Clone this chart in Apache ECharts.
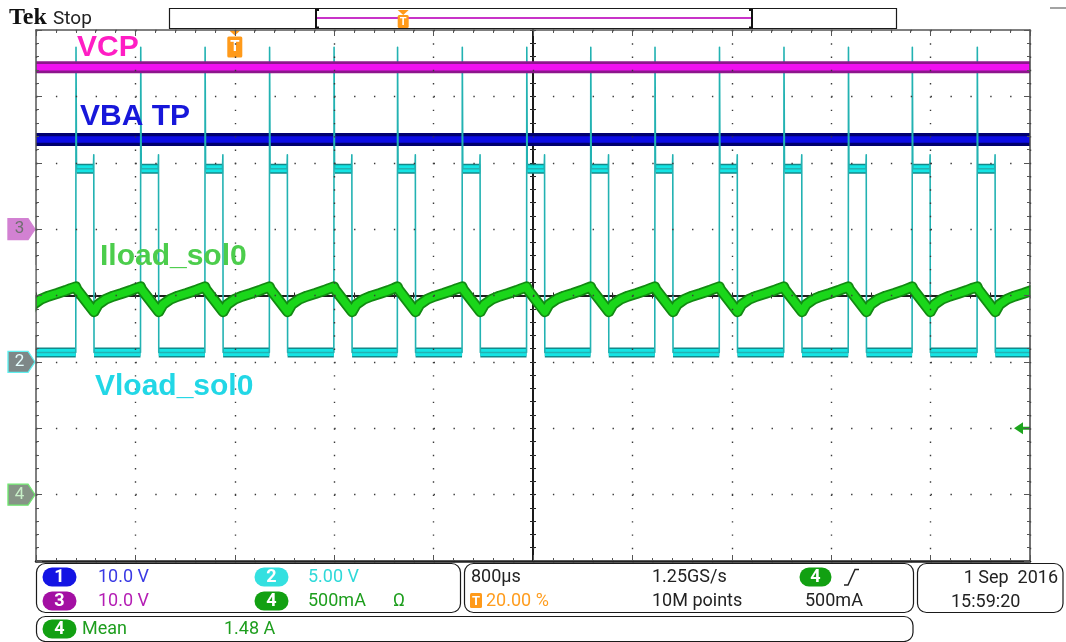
<!DOCTYPE html>
<html>
<head>
<meta charset="utf-8">
<script src="https://cdn.jsdelivr.net/npm/echarts@6/dist/echarts.min.js"></script>
<style>
  html, body { margin: 0; padding: 0; background: #ffffff; }
  #chart { width: 1066px; height: 642px; }
</style>
</head>
<body>
<div id="chart"></div>
<script>
// Horizontal: 800 µs/div over 10 divisions, trigger placed at 20 % of the record
const timePerDiv = 800;
const timeMin = -1600;
const timeMax = 6400;
const triggerPct = 20;

// Vertical settings per channel: units per division and ground position (divisions from centre)
const chScale  = { ch1: 10, ch2: 5, ch3: 10, ch4: 0.5 };
const chGround = { ch1: 1,  ch2: -1, ch3: 1,  ch4: -3 };
const triggerLevel = 0.5; // A on ch4

// VCP (ch3) and VBA TP (ch1) supply levels, V
const vcpLevel = 24.4;
const vbaLevel = 13.5;

// Vload_sol0 (ch2): switch-off instants (µs) and clamp duration
const offEdges = [-1280, -759, -241, 278, 797, 1308, 1829, 2348, 2863, 3380, 3899, 4418, 4937, 5451, 5974];
const offWidth = 147;
const vloadLow = 0.71;
const vloadHigh = 14.55;
const vloadSpike = 23.7;
const vloadTail = 15.6;

// Iload_sol0 (ch4): one switching cycle, [µs after switch-off, A]
const iloadCycle = [[0, 1.565], [10, 1.545], [147, 1.378], [180, 1.432], [240, 1.472], [300, 1.495], [370, 1.515], [440, 1.537], [480, 1.552]];

// Readout texts
const readVolts = ['10.0 V', '5.00 V', '10.0 V', '500mA'];
const readTime = '800µs';
const readRate = '1.25GS/s';
const readPoints = '10M points';
const readTrigPos = '20.00 %';
const readTrigLevel = '500mA';
const readMean = ['Mean', '1.48 A'];
const readDate = ['1 Sep  2016', '15:59:20'];

// ---------- build the traces ----------
const vloadTrace = [[timeMin, vloadLow]];
offEdges.forEach(t => {
  vloadTrace.push([t, vloadLow], [t + 2, vloadSpike], [t + 6, vloadHigh],
                  [t + offWidth - 5, vloadHigh], [t + offWidth - 2, vloadTail], [t + offWidth, vloadLow]);
});
vloadTrace.push([timeMax, vloadLow]);

const vloadLevels = [];
let segStart = timeMin;
offEdges.forEach(t => {
  vloadLevels.push([segStart, vloadLow], [t, vloadLow], [t, '-'],
                   [t + 6, vloadHigh], [t + offWidth, vloadHigh], [t + offWidth, '-']);
  segStart = t + offWidth;
});
vloadLevels.push([segStart, vloadLow], [timeMax, vloadLow]);

const cycleLen = offEdges[1] - offEdges[0];
const iloadTrace = [];
[offEdges[0] - cycleLen].concat(offEdges).forEach(t0 => {
  iloadCycle.forEach(([dt, a]) => iloadTrace.push([t0 + dt, a]));
});

const flat = v => [[timeMin, v], [timeMax, v]];

// ---------- axes ----------
const tickGray = '#555';
function chAxis(ch) {
  return { type: 'value', show: false, min: (-4 - chGround[ch]) * chScale[ch], max: (4 - chGround[ch]) * chScale[ch],
           axisLine: { onZero: false }, splitLine: { show: false } };
}
function ruler(extra) {
  return Object.assign({
    type: 'value', axisLabel: { show: false }, splitLine: { show: false },
    axisTick: { inside: true, length: 6, lineStyle: { color: tickGray, width: 1 } },
    minorTick: { show: true, splitNumber: 5, length: 3, lineStyle: { color: tickGray, width: 1 } }
  }, extra);
}
const centreTick = { length: 3, lineStyle: { color: '#222' } };

const xAxes = [
  ruler({ min: timeMin, max: timeMax, interval: timePerDiv, position: 'bottom', z: 20,
          axisLine: { onZero: false, lineStyle: { color: '#222', width: 2.5 } },
          splitLine: { show: true, lineStyle: { color: '#3a3a3a', width: 1.4, type: [1.4, 11.875] } } }),
  ruler({ min: timeMin, max: timeMax, interval: timePerDiv, position: 'top', z: 20,
          axisLine: { onZero: false, lineStyle: { color: '#555', width: 1.5 } } }),
  ruler({ min: -5, max: 5, interval: 1, position: 'bottom',
          axisLine: { onZero: true, onZeroAxisIndex: 0, lineStyle: { color: '#111', width: 1.6 } },
          axisTick: Object.assign({ inside: true }, centreTick),
          minorTick: Object.assign({ show: true, splitNumber: 5 }, centreTick) }),
  ruler({ min: -5, max: 5, interval: 1, position: 'bottom',
          axisLine: { onZero: true, onZeroAxisIndex: 0, lineStyle: { color: '#111', width: 1.6 } },
          axisTick: Object.assign({ inside: false }, centreTick),
          minorTick: Object.assign({ show: true, splitNumber: 5 }, centreTick) })
];

const yAxes = [
  ruler({ min: -4, max: 4, interval: 1, position: 'left', z: 20,
          axisLine: { onZero: false, lineStyle: { color: '#555', width: 1.5 } },
          splitLine: { show: true, lineStyle: { color: '#3a3a3a', width: 1.4, type: [1.4, 18.48] } } }),
  ruler({ min: -4, max: 4, interval: 1, position: 'right', z: 20,
          axisLine: { onZero: false, lineStyle: { color: '#444', width: 1.5 } } }),
  ruler({ min: -4, max: 4, interval: 1, position: 'left',
          axisLine: { onZero: true, onZeroAxisIndex: 2, lineStyle: { color: '#111', width: 1.6 } },
          axisTick: Object.assign({ inside: true }, centreTick),
          minorTick: Object.assign({ show: true, splitNumber: 5 }, centreTick) }),
  ruler({ min: -4, max: 4, interval: 1, position: 'left',
          axisLine: { onZero: true, onZeroAxisIndex: 2, lineStyle: { color: '#111', width: 1.6 } },
          axisTick: Object.assign({ inside: false }, centreTick),
          minorTick: Object.assign({ show: true, splitNumber: 5 }, centreTick) }),
  chAxis('ch1'), chAxis('ch2'), chAxis('ch3'), chAxis('ch4')
];
const Y = { ch1: 4, ch2: 5, ch3: 6, ch4: 7 };

// ---------- series ----------
function trace(name, data, yIdx, color, width, z, extra) {
  return Object.assign({
    type: 'line', name, data, xAxisIndex: 0, yAxisIndex: yIdx, showSymbol: false, symbol: 'none',
    animation: false, silent: true, clip: true, z,
    lineStyle: { color, width, cap: 'butt', join: 'round' }
  }, extra || {});
}

const groundMarker = 'path://M0,0 L20,0 L27,10.5 L20,21 L0,21 Z';
function chMarker(label, fill, border, textColor) {
  return Object.assign({ coord: [timeMin, 0] }, {
    symbol: groundMarker, symbolSize: [27, 21], symbolOffset: [-14.5, 0],
    itemStyle: { color: fill, borderColor: border, borderWidth: 1.2 },
    label: { show: true, position: 'inside', formatter: label, color: textColor, fontSize: 17,
             fontFamily: 'Roboto', offset: [-2, 0] }
  });
}

const series = [
  trace('VBA TP', flat(vbaLevel), Y.ch1, '#00006e', 13, 2),
  trace('VBA TP core', flat(vbaLevel), Y.ch1, '#0c0ce6', 6.5, 3),

  trace('Vload levels', vloadLevels, Y.ch2, '#138a8a', 10, 4),
  trace('Vload levels core', vloadLevels, Y.ch2, '#14e4e4', 7, 5),
  trace('Vload_sol0', vloadTrace, Y.ch2, '#22b2b2', 1.6, 6, {
    markPoint: { silent: true, animation: false, data: [chMarker('2', '#7e8888', '#5ff0f0', '#e6ffff')] }
  }),

  trace('VCP', flat(vcpLevel), Y.ch3, '#8c168c', 12, 7),
  trace('VCP core', flat(vcpLevel), Y.ch3, '#f010f0', 6.5, 8, {
    markPoint: {
      silent: true, animation: false,
      data: [
        chMarker('3', '#d281d2', '#d281d2', '#6f6f6f'),
        {
          coord: [0, (4 - chGround.ch3) * chScale.ch3],
          symbol: 'path://M2,0 L13,0 L7.5,5 Z M1.5,6 L13.5,6 Q15,6 15,7.5 L15,25.5 Q15,27 13.5,27 L1.5,27 Q0,27 0,25.5 L0,7.5 Q0,6 1.5,6 Z',
          symbolSize: [15, 27], symbolOffset: [0, 14],
          itemStyle: { color: '#ff9a1a' },
          label: { show: true, position: 'inside', formatter: 'T', color: '#ffffff', fontSize: 15,
                   fontWeight: 'bold', fontFamily: 'Roboto', offset: [0, 3] }
        }
      ]
    }
  }),

  trace('Iload edge', iloadTrace, Y.ch4, '#128a12', 11, 9),
  trace('Iload_sol0', iloadTrace, Y.ch4, '#1ad61a', 7.5, 10, {
    markPoint: {
      silent: true, animation: false,
      data: [
        chMarker('4', '#869486', '#6fe86f', '#c8f0c8'),
        {
          coord: [timeMax, triggerLevel],
          symbol: 'path://M0,6 L9,0 L9,4.6 L16,4.6 L16,7.4 L9,7.4 L9,12 Z',
          symbolSize: [16, 12], symbolOffset: [-8, 0],
          itemStyle: { color: '#1ea51e' }, label: { show: false }
        }
      ]
    }
  })
];

// ---------- text and frames around the graticule ----------
const readFont = 'Roboto, "DejaVu Sans", sans-serif';
const g = [];
function txt(x, y, text, fill, size, extra) {
  g.push({ type: 'text', silent: true, z: 100, style: {
    x, y, text, fill, font: (extra && extra.weight ? extra.weight + ' ' : '') + size + 'px ' + ((extra && extra.family) || readFont),
    textAlign: (extra && extra.align) || 'left', textVerticalAlign: 'middle' } });
}
function box(x, y, w, h, r) {
  g.push({ type: 'rect', silent: true, z: 90, shape: { x, y, width: w, height: h, r },
           style: { fill: 'none', stroke: '#1a1a1a', lineWidth: 1.2 } });
}
function pill(x, yc, w, label, color) {
  g.push({ type: 'rect', silent: true, z: 95, shape: { x, y: yc - 9.5, width: w, height: 19, r: 9.5 },
           style: { fill: color } });
  txt(x + w / 2, yc + 0.5, label, '#ffffff', 18, { align: 'center', weight: 'bold' });
}
function line(points, stroke, width) {
  g.push({ type: 'polyline', silent: true, z: 95, shape: { points }, style: { stroke, lineWidth: width, fill: 'none' } });
}

// keep the thick current trace inside the graticule edges
g.push({ type: 'rect', silent: true, z: 60, shape: { x: 22, y: 265, width: 13.2, height: 70 }, style: { fill: '#ffffff' } });
g.push({ type: 'rect', silent: true, z: 60, shape: { x: 1030.8, y: 265, width: 14, height: 70 }, style: { fill: '#ffffff' } });

// header
txt(9, 18, 'Tek', '#111111', 24, { weight: 'bold', family: '"Liberation Serif", "DejaVu Serif", serif' });
txt(53, 19, 'Stop', '#222222', 19);
box(169.5, 8.5, 727, 20, 0);
line([[319, 10], [316, 10], [316, 27.5], [319, 27.5]], '#111', 2);
line([[749, 10], [752, 10], [752, 27.5], [749, 27.5]], '#111', 2);
line([[317, 18], [751, 18]], '#c832c8', 2);
const recT = 316 + (752 - 316) * triggerPct / 100;
g.push({ type: 'polygon', silent: true, z: 96, shape: { points: [[recT - 5.5, 10], [recT + 5.5, 10], [recT, 15]] }, style: { fill: '#ff9a1a' } });
g.push({ type: 'rect', silent: true, z: 96, shape: { x: recT - 5.5, y: 15, width: 11, height: 13, r: 1.5 }, style: { fill: '#ff9a1a' } });
txt(recT, 22, 'T', '#ffffff', 11, { align: 'center', weight: 'bold' });
line([[1050, 8], [1066, 8]], '#666', 1.2);

// waveform labels
const lblFont = '"Liberation Sans", Arial, sans-serif';
txt(77, 47.5, 'VCP', '#ff1ec4', 30, { weight: 'bold', family: lblFont });
txt(80, 117, 'VBA TP', '#1717da', 30, { weight: 'bold', family: lblFont });
txt(100, 257, 'Iload_sol0', '#4ccd4c', 30, { weight: 'bold', family: lblFont });
txt(95, 386.5, 'Vload_sol0', '#22d7e6', 30, { weight: 'bold', family: lblFont });

// readout boxes
box(36.5, 563.5, 424, 49, 9);
box(464.5, 563.5, 449, 49, 9);
box(917.5, 563.5, 145.5, 49, 9);
box(36.5, 616.5, 876.5, 25, 9);

const row1 = 577, row2 = 601, row3 = 629;
pill(42.5, row1, 34, '1', '#1414e4');
txt(98, row1, readVolts[0], '#3a3ae4', 18);
pill(254.5, row1, 34, '2', '#34e0e0');
txt(308, row1, readVolts[1], '#2fd9d9', 18);
pill(42.5, row2, 34, '3', '#a30fa3');
txt(98, row2, readVolts[2], '#b41eb4', 18);
pill(254.5, row2, 34, '4', '#12a012');
txt(308, row2, readVolts[3], '#1e9e1e', 18);
txt(393, row2, 'Ω', '#1e9e1e', 18);

txt(471, row1, readTime, '#222222', 18);
txt(652, row1, readRate, '#222222', 18);
pill(799.5, row1, 32, '4', '#12a012');
line([[844, 585], [848, 585], [855, 569.5], [859, 569.5]], '#222', 1.5);
g.push({ type: 'rect', silent: true, z: 95, shape: { x: 470, y: 593, width: 12, height: 15, r: 1.5 }, style: { fill: '#ff9a1a' } });
txt(476, row2 + 0.5, 'T', '#ffffff', 13, { align: 'center', weight: 'bold' });
txt(486, row2, readTrigPos, '#ff9d1e', 18);
txt(652, row2, readPoints, '#222222', 18);
txt(805, row2, readTrigLevel, '#222222', 18);

txt(1058, row1 + 1, readDate[0], '#222222', 18, { align: 'right' });
txt(951, row2 + 1, readDate[1], '#222222', 18);

pill(42.5, row3, 34, '4', '#12a012');
txt(82, row3, readMean[0], '#1e9e1e', 18);
txt(224, row3, readMean[1], '#1e9e1e', 18);

const chart = echarts.init(document.getElementById('chart'), null, { renderer: 'canvas' });
chart.setOption({
  backgroundColor: '#ffffff',
  animation: false,
  grid: { left: 36, top: 30, width: 994, height: 531, containLabel: false, outerBoundsMode: 'none' },
  xAxis: xAxes,
  yAxis: yAxes,
  series,
  graphic: { elements: g }
});
</script>
</body>
</html>
